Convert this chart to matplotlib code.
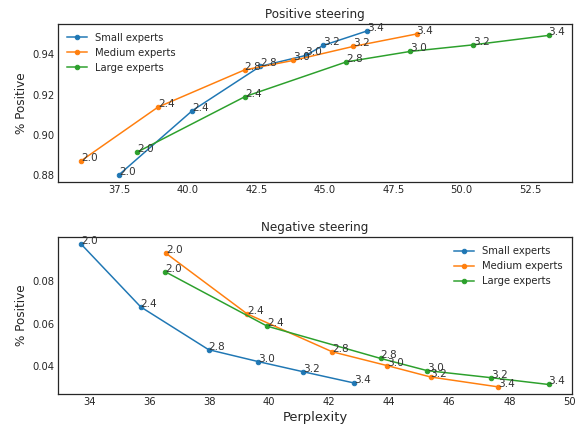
import matplotlib
matplotlib.use("Agg")
import matplotlib.pyplot as plt

# steering strengths (annotation labels)
strengths = ["2.0", "2.4", "2.8", "3.0", "3.2", "3.4"]
names = ["Small experts", "Medium experts", "Large experts"]
colors = ["#1f77b4", "#ff7f0e", "#2ca02c"]

# positive steering: perplexity / % positive
pos_ppl_small = [37.48, 40.16, 42.63, 44.30, 44.94, 46.54]
pos_acc_small = [0.8800, 0.9120, 0.9340, 0.9395, 0.9445, 0.9517]
pos_ppl_medium = [36.10, 38.90, 42.07, 43.84, 46.04, 48.35]
pos_acc_medium = [0.8870, 0.9137, 0.9323, 0.9370, 0.9440, 0.9502]
pos_ppl_large = [38.13, 42.09, 45.79, 48.12, 50.43, 53.18]
pos_acc_large = [0.8912, 0.9190, 0.9363, 0.9415, 0.9448, 0.9495]

# negative steering
neg_ppl_small = [33.74, 35.72, 37.98, 39.64, 41.12, 42.83]
neg_acc_small = [0.0971, 0.0678, 0.0478, 0.0422, 0.0375, 0.0322]
neg_ppl_medium = [36.56, 39.27, 42.10, 43.94, 45.38, 47.62]
neg_acc_medium = [0.0929, 0.0645, 0.0468, 0.0403, 0.0350, 0.0304]
neg_ppl_large = [36.53, 39.93, 43.71, 45.26, 47.38, 49.31]
neg_acc_large = [0.0843, 0.0588, 0.0437, 0.0380, 0.0347, 0.0315]

text_col = "#262626"
plt.rcParams.update({
    "font.family": "DejaVu Sans",
    "text.color": text_col,
    "axes.labelcolor": text_col,
    "xtick.color": text_col,
    "ytick.color": text_col,
    "axes.edgecolor": text_col,
    "axes.linewidth": 1.25,
    "xtick.major.size": 0,
    "ytick.major.size": 0,
    "xtick.labelsize": 10,
    "ytick.labelsize": 10,
})


def plot_panel(ax, xs, ys, title, legend_loc):
    for x, y, name, color in zip(xs, ys, names, colors):
        ax.plot(x, y, color=color, label=name, marker="o", markersize=4.5, linewidth=1.5)
        for xi, yi, s in zip(x, y, strengths):
            ax.text(xi, yi, s, fontsize=10.5, color="#333333")
    ax.set_title(title, fontsize=12)
    ax.set_ylabel("% Positive", fontsize=12)
    ax.legend(loc=legend_loc, frameon=False, fontsize=10)


fig = plt.figure(figsize=(579 / 72, 425 / 72), dpi=72)
ax1 = fig.add_axes([0.100, 0.572, 0.888, 0.372])
ax2 = fig.add_axes([0.100, 0.073, 0.888, 0.369])

plot_panel(ax1, [pos_ppl_small, pos_ppl_medium, pos_ppl_large],
           [pos_acc_small, pos_acc_medium, pos_acc_large], "Positive steering", "upper left")
ax1.set_yticks([0.88, 0.90, 0.92, 0.94])

plot_panel(ax2, [neg_ppl_small, neg_ppl_medium, neg_ppl_large],
           [neg_acc_small, neg_acc_medium, neg_acc_large], "Negative steering", "upper right")
ax2.set_xticks(range(34, 51, 2))
ax2.set_yticks([0.04, 0.06, 0.08])
ax2.set_xlabel("Perplexity", fontsize=13)

fig.savefig("out.png", dpi=72)
